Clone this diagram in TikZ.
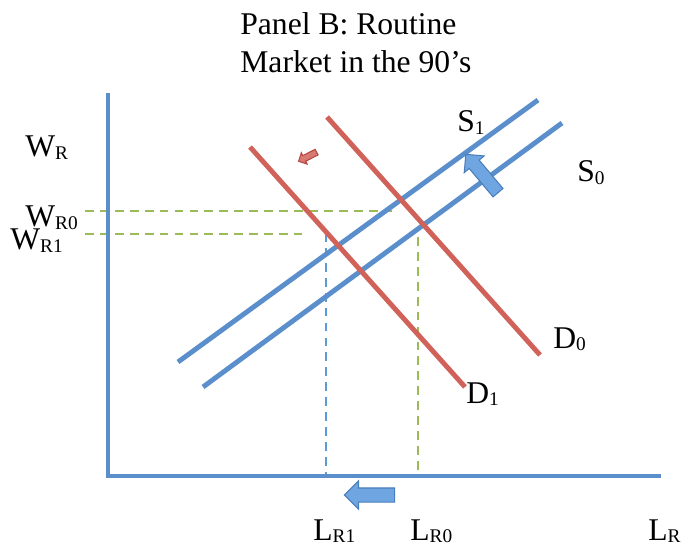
\documentclass[tikz,border=0pt]{standalone}
\usepackage{fontspec}
\setmainfont{Liberation Serif}
\usetikzlibrary{shapes.arrows}
\definecolor{mkBlue}{HTML}{5B8FCC}
\definecolor{mkRed}{HTML}{D0625A}
\definecolor{mkGreen}{HTML}{9BBB59}
\definecolor{mkGuide}{HTML}{5B9BD5}
\definecolor{mkArrow}{HTML}{6FA6E2}
\definecolor{mkArrowEdge}{HTML}{4A7EBB}
\definecolor{mkRedEdge}{HTML}{B8453E}
\newcommand{\sublbl}[2]{#1\raisebox{-0.2ex}{\fontsize{11}{11}\selectfont #2}}
\tikzset{
  axisline/.style={mkBlue, line width=2.8pt},
  supply/.style={mkBlue, line width=2.8pt},
  demand/.style={mkRed, line width=2.8pt},
  guide/.style={line width=1.1pt, dash pattern=on 5pt off 3.5pt},
  lbl/.style={font=\fontsize{18}{21}\selectfont, inner sep=0pt, anchor=base west},
  shiftarrow/.style={
    single arrow, single arrow head extend=#1,
    inner xsep=0pt, line width=0.6pt,
    draw=mkArrowEdge, fill=mkArrow
  }
}
\begin{document}
\begin{tikzpicture}[x=0.02cm, y=-0.02cm]
  \useasboundingbox (0,0) rectangle (682,550);
  % title
  \node[lbl] (title1) at (240,35) {Panel B: Routine};
  \node[lbl] (title2) at (240,73) {Market in the 90’s};
  % end points of the curves
  \coordinate (origin) at (108,476);
  \coordinate (wtop) at (108,93);
  \coordinate (lend) at (661,476);
  \coordinate (s1a) at (178,362);
  \coordinate (s1b) at (538,100);
  \coordinate (s0a) at (203,387);
  \coordinate (s0b) at (562,123);
  \coordinate (d0a) at (327,117);
  \coordinate (d0b) at (540,355);
  \coordinate (d1a) at (250,147);
  \coordinate (d1b) at (465,387);
  % guide lines
  \coordinate (w0a) at (85,211);
  \coordinate (w0b) at (394,211);
  \coordinate (w1a) at (85,234);
  \coordinate (w1b) at (302,234);
  \coordinate (l1a) at (326,233);
  \coordinate (l1b) at (326,476);
  \coordinate (l0a) at (418,237);
  \coordinate (l0b) at (418,476);
  \draw[guide, mkGreen] (w0a) -- (w0b);
  \draw[guide, mkGreen] (w1a) -- (w1b);
  \draw[guide, mkGuide] (l1a) -- (l1b);
  \draw[guide, mkGreen] (l0a) -- (l0b);
  % axes
  \draw[axisline] (wtop) -- (origin) -- (lend);
  % supply and demand
  \draw[supply] (s1a) -- (s1b);
  \draw[supply] (s0a) -- (s0b);
  \draw[demand] (d0a) -- (d0b);
  \draw[demand] (d1a) -- (d1b);
  % shift arrows
  \node[shiftarrow=4pt, inner ysep=3.7pt, minimum height=28.5pt, rotate=180] (lshift) at (373,495) {};
  \node[shiftarrow=3.7pt, inner ysep=3.4pt, minimum height=28.5pt, rotate=130] (sshift) at (484,176) {};
  \node[shiftarrow=1.8pt, inner ysep=1.5pt, minimum height=11.5pt, rotate=207, draw=mkRedEdge, fill=mkRed!85] (dshift) at (309,156) {};
  % labels
  \node[lbl] (wr) at (25,157) {\sublbl{W}{R}};
  \node[lbl] (wr0) at (25,227) {\sublbl{W}{R0}};
  \node[lbl] (wr1) at (10,250) {\sublbl{W}{R1}};
  \node[lbl] (lr1) at (313,540) {\sublbl{L}{R1}};
  \node[lbl] (lr0) at (410,540) {\sublbl{L}{R0}};
  \node[lbl] (lr) at (648,540) {\sublbl{L}{R}};
  \node[lbl] (s1) at (457,132) {\sublbl{S}{1}};
  \node[lbl] (s0) at (577,182) {\sublbl{S}{0}};
  \node[lbl] (d0) at (553,348) {\sublbl{D}{0}};
  \node[lbl] (d1) at (466,403) {\sublbl{D}{1}};
\end{tikzpicture}
\end{document}
